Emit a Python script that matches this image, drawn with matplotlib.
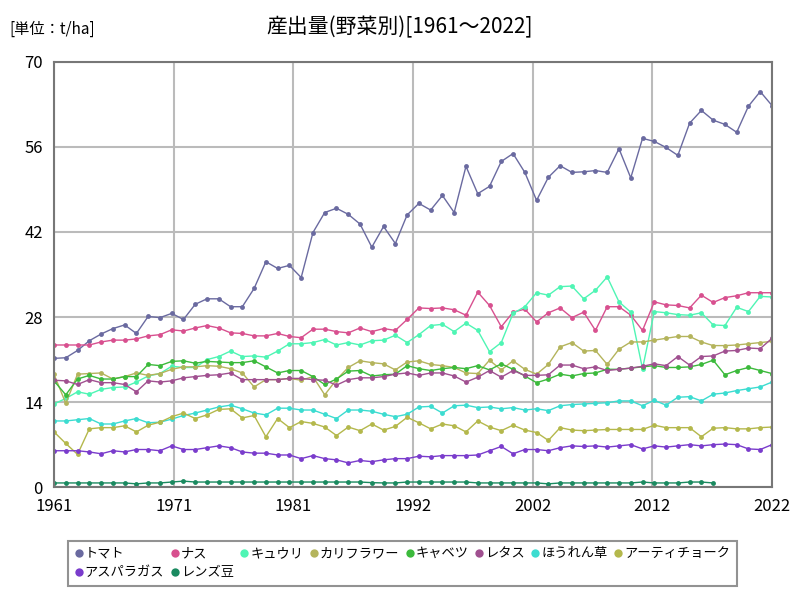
import numpy as np
import matplotlib
matplotlib.use("Agg")
import matplotlib.pyplot as plt

plt.rcParams['font.family'] = ['Noto Sans CJK JP', 'DejaVu Sans']

years = list(range(1961, 2023))

tomato = [21.2, 21.3, 22.5, 24.1, 25.2, 26.1, 26.7, 25.3, 28.1, 27.9,
          28.6, 27.6, 30.1, 31.0, 31.0, 29.7, 29.7, 32.7, 37.1, 36.0,
          36.5, 34.5, 41.9, 45.2, 45.9, 44.9, 43.3, 39.5, 42.9, 40.1,
          44.8, 46.7, 45.6, 48.0, 45.2, 52.8, 48.3, 49.5, 53.6, 54.9,
          51.8, 47.2, 51.0, 52.9, 51.8, 51.9, 52.1, 51.8, 55.7, 50.9,
          57.4, 56.9, 55.9, 54.6, 59.9, 62.0, 60.4, 59.7, 58.4, 62.7,
          65.1, 62.8]
nasu = [23.4, 23.4, 23.4, 23.4, 23.9, 24.2, 24.2, 24.4, 24.9, 25.1,
        25.9, 25.7, 26.2, 26.6, 26.2, 25.4, 25.3, 24.9, 24.9, 25.3,
        24.8, 24.6, 26.0, 26.0, 25.6, 25.4, 26.2, 25.6, 26.1, 25.8,
        27.6, 29.5, 29.4, 29.5, 29.2, 28.3, 32.1, 29.9, 26.4, 28.8,
        29.3, 27.2, 28.7, 29.5, 27.9, 28.8, 25.8, 29.7, 29.7, 28.3,
        25.8, 30.5, 30.0, 29.9, 29.5, 31.6, 30.4, 31.2, 31.5, 32.0,
        32.0, 32.0]
kyuri = [13.7, 14.6, 15.7, 15.3, 16.1, 16.4, 16.5, 17.3, 18.3, 18.7,
         19.9, 19.7, 19.7, 21.0, 21.5, 22.4, 21.5, 21.6, 21.4, 22.4,
         23.6, 23.6, 23.8, 24.3, 23.4, 23.8, 23.4, 24.1, 24.2, 25.0,
         23.8, 25.1, 26.6, 26.8, 25.6, 27.0, 25.8, 22.3, 23.8, 28.6,
         29.7, 32.0, 31.6, 33.0, 33.1, 31.0, 32.4, 34.6, 30.5, 28.8,
         19.5, 28.9, 28.7, 28.4, 28.3, 28.7, 26.7, 26.6, 29.6, 28.9,
         31.4, 31.3]
karifurawa = [18.6, 13.8, 18.6, 18.7, 18.8, 17.8, 18.2, 18.8, 18.4, 18.7,
              19.4, 19.8, 19.8, 20.0, 19.9, 19.5, 18.8, 16.5, 17.7, 17.7,
              17.9, 17.6, 18.2, 15.2, 17.7, 19.7, 20.8, 20.5, 20.3, 19.3,
              20.6, 20.8, 20.2, 20.0, 19.7, 18.8, 18.7, 20.9, 19.3, 20.8,
              19.4, 18.6, 20.2, 23.1, 23.8, 22.4, 22.5, 20.2, 22.7, 23.9,
              23.9, 24.2, 24.5, 24.8, 24.8, 23.9, 23.3, 23.3, 23.4, 23.6,
              23.8, 24.0]
kyabetsu = [17.5, 15.2, 17.8, 18.4, 17.8, 17.8, 18.2, 18.2, 20.2, 20.0,
            20.7, 20.8, 20.4, 20.7, 20.6, 20.5, 20.5, 20.8, 19.8, 18.8,
            19.2, 19.2, 18.2, 16.9, 17.8, 19.1, 19.2, 18.3, 18.5, 18.6,
            20.0, 19.5, 19.2, 19.5, 19.7, 19.5, 20.0, 19.3, 20.3, 19.4,
            18.3, 17.2, 17.8, 18.6, 18.3, 18.7, 18.8, 19.4, 19.4, 19.6,
            19.8, 20.0, 19.7, 19.7, 19.8, 20.2, 20.9, 18.5, 19.2, 19.7,
            19.2, 18.7]
retasu = [17.6, 17.5, 16.9, 17.7, 17.2, 17.2, 16.9, 15.7, 17.5, 17.3,
          17.5, 18.0, 18.2, 18.4, 18.5, 18.8, 17.7, 17.7, 17.7, 17.7,
          17.9, 17.9, 17.7, 17.6, 16.8, 17.7, 18.0, 18.0, 18.2, 18.6,
          18.8, 18.4, 18.8, 18.8, 18.3, 17.3, 18.1, 19.2, 18.1, 19.2,
          18.4, 18.4, 18.5, 20.1, 20.1, 19.5, 19.8, 19.2, 19.4, 19.6,
          19.9, 20.3, 20.0, 21.5, 20.1, 21.5, 21.6, 22.4, 22.5, 22.9,
          22.8, 24.5]
horenso = [10.9, 10.9, 11.1, 11.3, 10.4, 10.4, 10.9, 11.3, 10.6, 10.7,
           11.2, 11.8, 12.2, 12.7, 13.2, 13.5, 12.9, 12.2, 11.9, 13.0,
           13.0, 12.7, 12.7, 12.0, 11.3, 12.7, 12.7, 12.5, 12.0, 11.6,
           12.0, 13.2, 13.3, 12.2, 13.4, 13.5, 13.1, 13.2, 12.9, 13.1,
           12.7, 12.9, 12.6, 13.4, 13.6, 13.7, 13.8, 13.9, 14.2, 14.2,
           13.4, 14.3, 13.5, 14.8, 14.9, 14.2, 15.3, 15.5, 15.9, 16.2,
           16.5, 17.3]
artichoke = [9.1, 7.2, 5.4, 9.6, 9.8, 9.8, 10.1, 9.1, 10.2, 10.7,
             11.6, 12.2, 11.3, 11.9, 12.8, 12.9, 11.4, 11.8, 8.3, 11.3,
             9.8, 10.8, 10.5, 9.9, 8.5, 9.9, 9.3, 10.4, 9.4, 10.0,
             11.5, 10.6, 9.6, 10.4, 10.1, 9.1, 10.9, 9.9, 9.3, 10.2,
             9.4, 9.0, 7.7, 9.8, 9.4, 9.3, 9.4, 9.5, 9.5, 9.5,
             9.5, 10.2, 9.8, 9.8, 9.8, 8.3, 9.7, 9.8, 9.6, 9.6,
             9.8, 9.9]
asparagus = [6.0, 6.0, 6.0, 5.8, 5.5, 6.0, 5.8, 6.2, 6.2, 6.0,
             6.8, 6.2, 6.2, 6.5, 6.8, 6.5, 5.8, 5.6, 5.6, 5.3,
             5.3, 4.7, 5.2, 4.7, 4.5, 4.0, 4.4, 4.2, 4.5, 4.7,
             4.7, 5.1, 5.0, 5.2, 5.2, 5.2, 5.3, 6.0, 6.7, 5.5,
             6.2, 6.2, 6.0, 6.5, 6.8, 6.7, 6.8, 6.6, 6.8, 7.0,
             6.3, 6.8, 6.6, 6.8, 7.0, 6.8, 7.0, 7.1, 7.0, 6.3,
             6.2, 7.0]
lentil = [0.7, 0.7, 0.7, 0.7, 0.7, 0.7, 0.7, 0.55, 0.7, 0.7,
          0.85, 1.0, 0.85, 0.85, 0.85, 0.85, 0.85, 0.85, 0.85, 0.85,
          0.85, 0.85, 0.85, 0.85, 0.85, 0.85, 0.85, 0.75, 0.7, 0.7,
          0.85, 0.85, 0.85, 0.85, 0.85, 0.85, 0.7, 0.7, 0.7, 0.7,
          0.7, 0.7, 0.55, 0.7, 0.7, 0.7, 0.7, 0.7, 0.7, 0.7,
          0.85, 0.7, 0.7, 0.7, 0.85, 0.85, 0.7, np.nan, np.nan, np.nan,
          np.nan, np.nan]

names = ["トマト", "ナス", "キュウリ", "カリフラワー", "キャベツ",
         "レタス", "ほうれん草", "アーティチョーク", "アスパラガス", "レンズ豆"]
series = [tomato, nasu, kyuri, karifurawa, kyabetsu,
          retasu, horenso, artichoke, asparagus, lentil]
colors = ["#6a6aa0", "#d8508f", "#4ff5b4", "#b4b45c", "#3cba3c",
          "#a05090", "#3cdcd0", "#b4b84c", "#7a3ccc", "#1a8a60"]

fig = plt.figure(figsize=(8, 6), dpi=100)
ax = fig.add_axes([0.0675, 0.188, 0.8975, 0.709])

for name, vals, c in zip(names, series, colors):
    ax.plot(years, vals, color=c, lw=1, marker='o', markersize=3.5,
            markeredgewidth=0, label=name)

ax.set_xlim(1961, 2022)
ax.set_ylim(0, 70)
ax.set_yticks([0, 14, 28, 42, 56, 70])
xt = np.linspace(1961, 2022, 7)
ax.set_xticks(xt)
ax.set_xticklabels(["1961", "1971", "1981", "1992", "2002", "2012", "2022"])
ax.tick_params(length=0, labelsize=12, pad=8)
ax.grid(True, color="#bbbbbb", lw=1.5)
ax.set_axisbelow(True)
for s in ax.spines.values():
    s.set_color("#777777")
    s.set_linewidth(1.5)

# legend is filled column by column, so reorder to read row by row
handles, labels = ax.get_legend_handles_labels()
order = [0, 8, 1, 9, 2, 3, 4, 5, 6, 7]
leg = fig.legend([handles[i] for i in order], [labels[i] for i in order],
                 loc="upper left", bbox_to_anchor=(0.077, 0.11), ncol=8,
                 fontsize=9.5, frameon=True, fancybox=False, handlelength=0.6,
                 handletextpad=0.15, columnspacing=0.5, borderpad=0.5,
                 labelspacing=0.45)
leg.get_frame().set_edgecolor("#777777")
leg.get_frame().set_linewidth(1.5)
for h in leg.legend_handles:
    h.set_linestyle("")
    h.set_markersize(6)

fig.text(0.5, 0.955, "産出量(野菜別)[1961～2022]", ha="center", va="center",
         fontsize=15)
fig.text(0.012, 0.952, "[単位：t/ha]", ha="left", va="center", fontsize=11)

fig.savefig("out.png", dpi=100)
